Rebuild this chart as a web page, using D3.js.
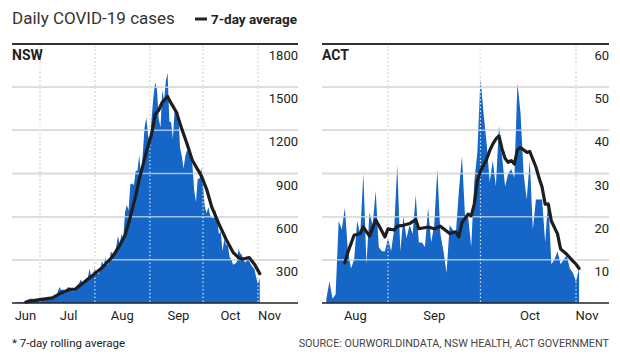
<!DOCTYPE html>
<html>
<head>
<meta charset="utf-8">
<script src="https://cdn.jsdelivr.net/npm/d3@7"></script>
<style>
  body { margin: 0; background: #fff; }
  text { font-family: Roboto, "Noto Sans", sans-serif; fill: #222; }
</style>
</head>
<body>
<svg id="chart" width="620" height="359"></svg>
<script>
// daily cases, one value per day from the start date
const nswStart = "2021-06-17";
const nswDaily = [
  3, 4, 5, 4, 9, 6, 11, 22, 29, 29, 30, 18, 19, 22,
  24, 31, 35, 16, 35, 27, 38, 44, 44, 50, 77, 112, 89, 97, 65, 97, 111, 105, 98, 78, 110, 124, 136, 163, 141, 145, 172, 177, 239, 170, 210,
  239, 207, 199, 233, 291, 262, 319, 262, 283, 356, 344, 345, 390, 466, 415, 478, 452, 633, 681, 644, 825, 830, 818, 919, 919, 1029, 882, 1035, 1218, 1290, 1164,
  1116, 1288, 1431, 1533, 1485, 1281, 1220, 1480, 1405, 1542, 1599, 1262, 1257, 1140, 1351, 1284, 1331, 1083, 1022, 935, 1022, 1063, 1043, 1007, 961, 787, 700, 863, 864, 941,
  813, 667, 623, 667, 608, 594, 587, 646, 580, 477, 496, 360, 444, 406, 399, 319, 301, 265, 273, 283, 372, 345, 332, 296, 282, 304, 293, 268, 250, 236, 177,
  135, 173
];
const nswAvg = [
  ["2021-06-23", 6], ["2021-06-27", 16], ["2021-07-03", 27], ["2021-07-08", 36], ["2021-07-13", 70],
  ["2021-07-18", 95], ["2021-07-21", 97], ["2021-07-25", 135], ["2021-07-31", 195], ["2021-08-05", 245],
  ["2021-08-11", 322], ["2021-08-15", 400], ["2021-08-18", 470], ["2021-08-21", 600], ["2021-08-24", 745],
  ["2021-08-26", 860], ["2021-08-29", 1000], ["2021-08-30", 1050], ["2021-09-02", 1175], ["2021-09-04", 1310],
  ["2021-09-06", 1340], ["2021-09-08", 1395], ["2021-09-11", 1435], ["2021-09-12", 1410], ["2021-09-16", 1326],
  ["2021-09-19", 1210], ["2021-09-22", 1105], ["2021-09-25", 990], ["2021-09-30", 885], ["2021-10-03", 792],
  ["2021-10-06", 664], ["2021-10-10", 548], ["2021-10-14", 443], ["2021-10-18", 351], ["2021-10-21", 316],
  ["2021-10-23", 304], ["2021-10-27", 316], ["2021-10-30", 270], ["2021-11-02", 204]
];

const actStart = "2021-08-12";
const actDaily = [
  1, 5, 1, 2, 19, 17, 22, 12, 8, 10, 19, 16, 30, 9, 21, 18, 26, 13, 12, 12,
  15, 12, 17, 32, 12, 20, 15, 18, 16, 25, 14, 14, 13, 22, 14, 18, 31, 16, 12, 7,
  18, 17, 16, 26, 34, 20, 20, 13, 28, 35, 52, 44, 37, 28, 33, 27, 41, 34, 27, 30,
  31, 29, 51, 44, 30, 24, 33, 17, 24, 24, 24, 14, 24, 9, 10, 12, 9, 10, 11, 8,
  7, 5, 8
];
const actAvg = [
  ["2021-08-18", 9.3], ["2021-08-19", 11.8], ["2021-08-20", 13.8], ["2021-08-21", 15.7], ["2021-08-23", 16.1],
  ["2021-08-24", 17.6], ["2021-08-26", 15.5], ["2021-08-28", 19.2], ["2021-08-29", 18], ["2021-08-31", 15.3],
  ["2021-09-01", 17.2], ["2021-09-03", 16.9], ["2021-09-04", 17.8], ["2021-09-06", 18], ["2021-09-08", 18.4],
  ["2021-09-10", 19.3], ["2021-09-11", 17.2], ["2021-09-14", 17.6], ["2021-09-16", 17.2], ["2021-09-18", 17.8],
  ["2021-09-21", 16.1], ["2021-09-23", 16.5], ["2021-09-24", 15.3], ["2021-09-25", 18.6], ["2021-09-27", 20.6],
  ["2021-09-28", 20.2], ["2021-09-29", 22.9], ["2021-09-30", 28.3], ["2021-10-01", 30.6], ["2021-10-03", 33.3],
  ["2021-10-04", 35.3], ["2021-10-05", 36.8], ["2021-10-06", 38], ["2021-10-07", 38.7], ["2021-10-08", 35.7],
  ["2021-10-09", 33.5], ["2021-10-10", 32.6], ["2021-10-11", 33], ["2021-10-12", 32.2], ["2021-10-13", 35.5],
  ["2021-10-14", 36], ["2021-10-16", 34.9], ["2021-10-17", 35.1], ["2021-10-19", 31.5], ["2021-10-20", 29],
  ["2021-10-21", 26.8], ["2021-10-22", 22.9], ["2021-10-23", 22.9], ["2021-10-24", 19], ["2021-10-26", 16],
  ["2021-10-27", 12.5], ["2021-10-29", 11.3], ["2021-10-31", 9.7], ["2021-11-01", 9], ["2021-11-02", 8]
];

// axis values
const nswTicks = [300, 600, 900, 1200, 1500, 1800];
const actTicks = [10, 20, 30, 40, 50, 60];
const nswMonthLines = ["2021-07-01", "2021-08-01", "2021-09-01", "2021-10-01", "2021-11-01"];
const actMonthLines = ["2021-09-01", "2021-10-01", "2021-11-01"];
const nswMonthLabels = [["Jun", "2021-06-22 12"], ["Jul", "2021-07-16 20"], ["Aug", "2021-08-16 04"],
  ["Sep", "2021-09-16 20"], ["Oct", "2021-10-16 04"], ["Nov", "2021-11-07 06"]];
const actMonthLabels = [["Aug", "2021-08-21 06"], ["Sep", "2021-09-15 20"], ["Oct", "2021-10-16 22"], ["Nov", "2021-11-04 10"]];

const parseDay = d3.timeParse("%Y-%m-%d");
const parseHour = d3.timeParse("%Y-%m-%d %H");

const svg = d3.select("#chart");
const blue = "#1566c6";
const plotTop = 44, plotBottom = 303;

// header
svg.append("text").attr("x", 12).attr("y", 24)
  .style("font-size", "17px").style("fill", "#333")
  .text("Daily COVID-19 cases");
svg.append("line").attr("x1", 195).attr("x2", 207).attr("y1", 19).attr("y2", 19)
  .attr("stroke", "#222").attr("stroke-width", 3);
svg.append("text").attr("x", 211).attr("y", 24)
  .style("font-size", "13.5px").style("font-weight", 700)
  .text("7-day average");

function panel(opt) {
  const g = svg.append("g");
  const x = d3.scaleTime().domain(opt.domain).range([opt.left, opt.right]);
  const y = d3.scaleLinear().domain([0, opt.max]).range([plotBottom, plotTop]);

  const start = parseDay(opt.start);
  const daily = opt.daily.map((v, i) => ({ date: d3.timeDay.offset(start, i), v }));
  const avg = opt.avg.map(([d, v]) => ({ date: parseDay(d), v }));
  const lines = opt.monthLines.map(parseDay);
  const grid = opt.ticks.filter(t => t < opt.max);

  // gridlines and month lines under the area
  g.selectAll("line.grid").data(grid).join("line").attr("class", "grid")
    .attr("x1", opt.left).attr("x2", opt.right)
    .attr("y1", d => y(d)).attr("y2", d => y(d))
    .attr("stroke", "#a8a8a8").attr("stroke-width", 1.5);
  g.selectAll("line.month").data(lines).join("line").attr("class", "month")
    .attr("x1", d => x(d)).attr("x2", d => x(d))
    .attr("y1", plotTop + 2).attr("y2", plotBottom)
    .attr("stroke", "#8a8a8a").attr("stroke-width", 1.2).attr("stroke-dasharray", "1.2,2.6");

  g.append("path").datum(daily)
    .attr("fill", blue)
    .attr("d", d3.area().x(d => x(d.date)).y0(y(0)).y1(d => y(d.v)));

  // lighter copies on top, only visible over the blue
  g.selectAll("line.gridHi").data(grid).join("line").attr("class", "gridHi")
    .attr("x1", opt.left).attr("x2", opt.right)
    .attr("y1", d => y(d)).attr("y2", d => y(d))
    .attr("stroke", "#fff").attr("stroke-opacity", 0.6).attr("stroke-width", 1.5);
  g.selectAll("line.monthHi").data(lines).join("line").attr("class", "monthHi")
    .attr("x1", d => x(d)).attr("x2", d => x(d))
    .attr("y1", plotTop + 2).attr("y2", plotBottom)
    .attr("stroke", "#fff").attr("stroke-width", 1.2).attr("stroke-dasharray", "1.2,2.6");

  // top rule and baseline
  g.append("line").attr("x1", opt.left).attr("x2", opt.right).attr("y1", y(opt.max)).attr("y2", y(opt.max))
    .attr("stroke", "#333").attr("stroke-width", 1.8);
  g.append("line").attr("x1", opt.left).attr("x2", opt.right).attr("y1", y(0)).attr("y2", y(0))
    .attr("stroke", "#222").attr("stroke-width", 1.5);

  g.append("path").datum(avg)
    .attr("fill", "none").attr("stroke", "#1e1e1e").attr("stroke-width", 3.2)
    .attr("stroke-linejoin", "round").attr("stroke-linecap", "round")
    .attr("d", d3.line().x(d => x(d.date)).y(d => y(d.v)));

  // y labels, sitting just under each gridline
  const ya = g.append("g").attr("transform", `translate(${opt.right},0)`)
    .call(d3.axisLeft(y).tickValues(opt.ticks).tickSize(0).tickPadding(0).tickFormat(d3.format("d")));
  ya.select(".domain").remove();
  ya.selectAll("text").attr("dy", 15.5).attr("text-anchor", "end")
    .style("font-size", "13px").style("font-family", "Roboto, sans-serif").style("fill", "#222");

  // month labels
  const labelDates = opt.monthLabels.map(([, d]) => parseHour(d));
  const names = new Map(opt.monthLabels.map(([n, d]) => [+parseHour(d), n]));
  const xa = g.append("g").attr("transform", `translate(0,${plotBottom})`)
    .call(d3.axisBottom(x).tickValues(labelDates).tickSize(0).tickPadding(0).tickFormat(d => names.get(+d)));
  xa.select(".domain").remove();
  xa.selectAll("text").attr("y", 16.5).attr("dy", 0)
    .style("font-size", "13px").style("font-family", "Roboto, sans-serif").style("fill", "#222");

  g.append("text").attr("x", opt.left).attr("y", 60)
    .style("font-size", "14px").style("font-weight", 700)
    .text(opt.name);
}

panel({
  name: "NSW", left: 12, right: 298, max: 1800,
  domain: [parseHour("2021-06-15 05"), parseHour("2021-11-23 14")],
  start: nswStart, daily: nswDaily, avg: nswAvg,
  ticks: nswTicks, monthLines: nswMonthLines, monthLabels: nswMonthLabels
});
panel({
  name: "ACT", left: 322, right: 609, max: 60,
  domain: [parseHour("2021-08-10 14"), parseHour("2021-11-11 17")],
  start: actStart, daily: actDaily, avg: actAvg,
  ticks: actTicks, monthLines: actMonthLines, monthLabels: actMonthLabels
});

// footer
svg.append("text").attr("x", 12).attr("y", 347)
  .style("font-size", "11.5px").style("fill", "#222")
  .text("* 7-day rolling average");
svg.append("text").attr("x", 609).attr("y", 347).attr("text-anchor", "end")
  .style("font-size", "10.8px").style("fill", "#444")
  .text("SOURCE: OURWORLDINDATA, NSW HEALTH, ACT GOVERNMENT");
</script>
</body>
</html>
